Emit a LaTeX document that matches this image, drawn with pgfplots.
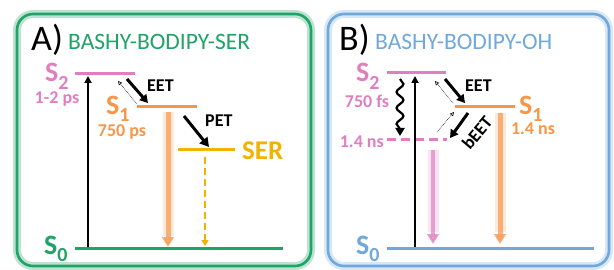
\documentclass[border=0pt]{standalone}
\usepackage{fontspec}
\setmainfont{Carlito}
\usepackage{pgfplots}
\pgfplotsset{compat=1.18}
\usetikzlibrary{arrows.meta,decorations.pathmorphing}
\definecolor{cgreen}{HTML}{1FA366}
\definecolor{cpink}{HTML}{E07EC0}
\definecolor{corange}{HTML}{F79646}
\definecolor{camber}{HTML}{F2B200}
\definecolor{cblue}{HTML}{6FA8DC}
\newcommand{\lvl}[1]{S\raisebox{-0.27em}{\fontsize{20}{20}\selectfont #1}}
\begin{document}
\begin{tikzpicture}
\begin{axis}[at={(0,0)},anchor=south west,
  width=614pt,height=270pt,scale only axis,
  xmin=0,xmax=614,ymin=0,ymax=270,y dir=reverse,
  hide axis,clip=false]
% frames
\draw[cgreen!30,line width=8pt,rounded corners=16pt] (axis cs:17,14) rectangle (axis cs:311,266);
\draw[cgreen,line width=2.6pt,rounded corners=16pt] (axis cs:17,14) rectangle (axis cs:311,266);
\draw[cblue!28,line width=8pt,rounded corners=16pt] (axis cs:328,14) rectangle (axis cs:609,266);
\draw[cblue,line width=2.6pt,rounded corners=16pt] (axis cs:328,14) rectangle (axis cs:609,266);
% ---------- Panel A ----------
\node[anchor=base west,inner sep=0,font=\fontsize{36}{36}\selectfont] at (axis cs:31,51) {A)};
\node[anchor=base west,inner sep=0,text=cgreen,font=\fontsize{23.5}{23.5}\selectfont] at (axis cs:68,50) {BASHY-BODIPY-SER};
% glow arrow S1 -> S0
\addplot[draw=corange,opacity=0.2,line width=11pt] coordinates {(168,112) (168,236)};
\addplot[draw=corange,opacity=0.7,line width=5pt,-{Triangle[width=12pt,length=10pt]}] coordinates {(168,112) (168,247)};
% levels
\addplot[draw=cpink,line width=3pt] coordinates {(75,74) (135,74)};
\addplot[draw=corange,line width=3pt] coordinates {(137,107) (197,107)};
\addplot[draw=camber,line width=3pt] coordinates {(178,150) (235,150)};
\addplot[draw=cgreen,line width=3pt] coordinates {(75,248) (283,248)};
% excitation
\addplot[draw=black,line width=2.2pt,-{Triangle[width=7pt,length=7pt]}] coordinates {(88,247) (88,76)};
% EET
\addplot[draw=black,line width=3pt,-{Triangle[width=9pt,length=8pt]}] coordinates {(127,79) (148,103)};
\addplot[draw=black,line width=0.6pt,densely dotted,-{Triangle[width=4pt,length=4pt,open]}] coordinates {(137,104) (118,81)};
% PET
\addplot[draw=black,line width=3pt,-{Triangle[width=10pt,length=9pt]}] coordinates {(184,116) (209,147)};
% SER dashed
\addplot[draw=camber,line width=2pt,dash pattern=on 7pt off 4pt,-{Triangle[width=7pt,length=6pt]}] coordinates {(205,157) (205,246)};
% labels A
\node[anchor=base west,inner sep=0,text=cpink,font=\bfseries\fontsize{28}{28}\selectfont] at (axis cs:45,82) {\lvl{2}};
\node[anchor=base,inner sep=0,text=cpink,font=\bfseries\fontsize{18}{18}\selectfont] at (axis cs:57,103) {1-2 ps};
\node[anchor=base west,inner sep=0,text=corange,font=\bfseries\fontsize{28}{28}\selectfont] at (axis cs:106,114) {\lvl{1}};
\node[anchor=base,inner sep=0,text=corange,font=\bfseries\fontsize{18}{18}\selectfont] at (axis cs:122,137) {750 ps};
\node[anchor=base west,inner sep=0,font=\bfseries\fontsize{18}{18}\selectfont] at (axis cs:147,92) {EET};
\node[anchor=base west,inner sep=0,font=\bfseries\fontsize{18}{18}\selectfont] at (axis cs:205,127) {PET};
\node[anchor=base west,inner sep=0,text=camber,font=\bfseries\fontsize{27}{27}\selectfont] at (axis cs:242,160) {SER};
\node[anchor=base west,inner sep=0,text=cgreen,font=\bfseries\fontsize{28}{28}\selectfont] at (axis cs:44,254) {\lvl{0}};
% ---------- Panel B ----------
\node[anchor=base west,inner sep=0,font=\fontsize{36}{36}\selectfont] at (axis cs:339,51) {B)};
\node[anchor=base west,inner sep=0,text=cblue,font=\fontsize{23.5}{23.5}\selectfont] at (axis cs:375,50) {BASHY-BODIPY-OH};
% glow arrows
\addplot[draw=cpink,opacity=0.2,line width=11pt] coordinates {(433,150) (433,232)};
\addplot[draw=cpink,opacity=0.7,line width=4.5pt,-{Triangle[width=12pt,length=10pt]}] coordinates {(433,150) (433,244)};
\addplot[draw=corange,opacity=0.2,line width=11pt] coordinates {(500,113) (500,232)};
\addplot[draw=corange,opacity=0.7,line width=5pt,-{Triangle[width=12pt,length=10pt]}] coordinates {(500,113) (500,244)};
% levels
\addplot[draw=cpink,line width=3pt] coordinates {(387,73) (446,73)};
\addplot[draw=cpink,line width=3pt,dash pattern=on 9pt off 5pt] coordinates {(387,140) (447,140)};
\addplot[draw=corange,line width=3pt] coordinates {(455,107) (515,107)};
\addplot[draw=cblue,line width=3pt] coordinates {(387,248) (594,248)};
% excitation
\addplot[draw=black,line width=2.2pt,-{Triangle[width=7pt,length=7pt]}] coordinates {(415,247) (415,76)};
% wavy
\addplot[draw=black,line width=2.2pt,decorate,decoration={snake,amplitude=3.5pt,segment length=16pt,post length=7pt},-{Triangle[width=9pt,length=8pt]}] coordinates {(400,79) (400,136)};
% EET
\addplot[draw=black,line width=3pt,-{Triangle[width=9pt,length=8pt]}] coordinates {(445,79) (465,103)};
\addplot[draw=black,line width=0.6pt,densely dotted,-{Triangle[width=4pt,length=4pt,open]}] coordinates {(453,103) (435,81)};
% bEET
\addplot[draw=black,line width=3pt,-{Triangle[width=9pt,length=8pt]}] coordinates {(468,113) (450,138)};
\addplot[draw=black,line width=0.6pt,densely dotted,-{Triangle[width=4pt,length=4pt,open]}] coordinates {(437,132) (454,112)};
% labels B
\node[anchor=base west,inner sep=0,text=cpink,font=\bfseries\fontsize{28}{28}\selectfont] at (axis cs:356,82) {\lvl{2}};
\node[anchor=base,inner sep=0,text=cpink,font=\bfseries\fontsize{18}{18}\selectfont] at (axis cs:367,107) {750 fs};
\node[anchor=base east,inner sep=0,text=cpink,font=\bfseries\fontsize{18}{18}\selectfont] at (axis cs:384,147) {1.4 ns};
\node[anchor=base west,inner sep=0,font=\bfseries\fontsize{18}{18}\selectfont] at (axis cs:465,92) {EET};
\node[anchor=base west,inner sep=0,text=corange,font=\bfseries\fontsize{28}{28}\selectfont] at (axis cs:519,114) {\lvl{1}};
\node[anchor=base,inner sep=0,text=corange,font=\bfseries\fontsize{18}{18}\selectfont] at (axis cs:533,135) {1.4 ns};
\node[rotate=50,inner sep=0,font=\bfseries\fontsize{18}{18}\selectfont] at (axis cs:477,133) {bEET};
\node[anchor=base west,inner sep=0,text=cblue,font=\bfseries\fontsize{28}{28}\selectfont] at (axis cs:356,254) {\lvl{0}};
\end{axis}
\pgfresetboundingbox
\path (0,0) rectangle (614pt,270pt);
\end{tikzpicture}
\end{document}
